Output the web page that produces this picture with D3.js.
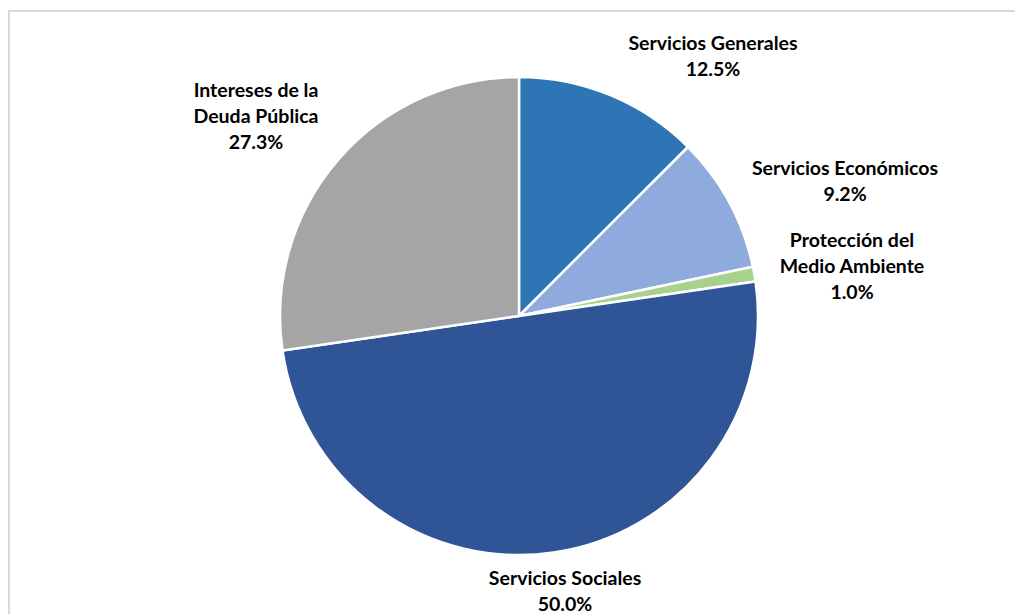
<!DOCTYPE html>
<html>
<head>
<meta charset="utf-8">
<script src="https://cdn.jsdelivr.net/npm/d3@7"></script>
<style>
	body { margin: 0; background: #fff; }
	text { font-family: Lato, "Open Sans", sans-serif; font-weight: bold; fill: #000; }
</style>
</head>
<body>
<svg width="1015" height="614"></svg>
<script>
	// Data
	var categories = [
		["Servicios Generales"],
		["Servicios Económicos"],
		["Protección del", "Medio Ambiente"],
		["Servicios Sociales"],
		["Intereses de la", "Deuda Pública"]
	];
	var shares = [12.5, 9.2, 1.0, 50.0, 27.3];
	var colors = ["#2E75B6", "#8FAADC", "#A9D18E", "#2F5597", "#A5A5A5"];

	// where each label block sits, relative to the pie centre
	var labelPos = [[194, -260], [326, -135], [333, -50], [46, 275], [-263, -200]];

	var svg = d3.select("svg"),
		cx = 519, cy = 316,
		radius = 239,
		lineH = 26;

	// chart frame (runs off the right and bottom edges)
	svg.append("rect")
		.attr("x", 9).attr("y", 11)
		.attr("width", 1100).attr("height", 700)
		.attr("fill", "none")
		.attr("stroke", "#d9d9d9")
		.attr("stroke-width", 2);

	var data = shares.map(function(v, i) { return {name: categories[i], value: v, color: colors[i], pos: labelPos[i]}; });

	var pie = d3.pie().sort(null).value(function(d) { return d.value; });
	var arc = d3.arc().innerRadius(0).outerRadius(radius);

	var g = svg.append("g").attr("transform", "translate(" + cx + "," + cy + ")");

	g.selectAll("path")
		.data(pie(data))
		.enter().append("path")
		.attr("d", arc)
		.attr("fill", function(d) { return d.data.color; })
		.attr("stroke", "#fff")
		.attr("stroke-width", 2.5)
		.attr("stroke-linejoin", "round");

	// labels: name lines then the percentage
	var labels = g.selectAll("text.lbl")
		.data(data)
		.enter().append("text")
		.attr("class", "lbl")
		.attr("text-anchor", "middle")
		.attr("font-size", "19.5px");

	labels.each(function(d) {
		var lines = d.name.concat([d.value.toFixed(1) + "%"]);
		var top = d.pos[1] - (lines.length - 1) * lineH / 2;
		var t = d3.select(this);
		lines.forEach(function(s, k) {
			t.append("tspan")
				.attr("x", d.pos[0])
				.attr("y", top + k * lineH)
				.attr("dy", "0.35em")
				.text(s);
		});
	});
</script>
</body>
</html>
